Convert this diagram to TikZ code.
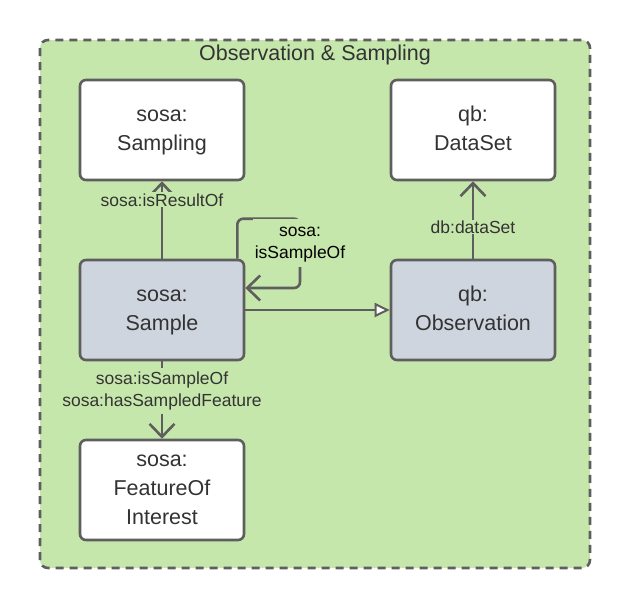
\documentclass[tikz,border=0pt]{standalone}
\usepackage{fontspec}
\setmainfont{Liberation Sans}
\usetikzlibrary{arrows.meta}
\definecolor{areagreen}{RGB}{198,231,171}
\definecolor{classgrey}{RGB}{207,213,222}
\definecolor{edgegrey}{RGB}{94,94,94}
\definecolor{textgrey}{RGB}{51,51,51}
\begin{document}
\begin{tikzpicture}[x=1pt,y=-1pt,
  classbox/.style={draw=edgegrey,line width=2.6pt,rounded corners=6pt,fill=white,
    minimum width=164pt,minimum height=100pt,align=center,text=textgrey,
    font=\fontsize{21.5}{29}\selectfont},
  instbox/.style={classbox,fill=classgrey},
  link/.style={draw=edgegrey,line width=2.6pt,-{Straight Barb[length=13pt,width=25pt,line width=2.6pt]}},
  sublink/.style={draw=edgegrey,line width=2.6pt,-{Triangle[open,fill=white,length=15pt,width=14pt,line width=2pt]}},
  linklabel/.style={fill=areagreen,inner sep=1pt,align=center,text=textgrey,
    font=\fontsize{17.5}{22}\selectfont}]
\useasboundingbox (0,0) rectangle (630,608);
% area
\draw[fill=areagreen,draw=edgegrey,line width=2.6pt,dash pattern=on 8pt off 6pt,
  rounded corners=8pt] (40,40) rectangle (590,568);
\node[text=textgrey,font=\fontsize{21.5}{26}\selectfont] (title) at (315,55) {\strut Observation \& Sampling};
% classes
\node[classbox] (sampling) at (162,130) {\strut sosa:\\\strut Sampling};
\node[classbox] (dataset) at (473,130) {\strut qb:\\\strut DataSet};
\node[instbox] (sample) at (162,310) {\strut sosa:\\\strut Sample};
\node[instbox] (observation) at (473,310) {\strut qb:\\\strut Observation};
\node[classbox] (feature) at (162,490) {\strut sosa:\\\strut FeatureOf\\\strut Interest};
% links
\draw[link] (sample) -- node[linklabel,pos=0.76] (resultlbl) {sosa:isResultOf} (sampling);
\draw[link] (observation) -- node[linklabel,pos=0.41] (datasetlbl) {db:dataSet} (dataset);
\draw[link] (sample) -- node[linklabel,pos=0.39] (featurelbl) {\strut sosa:isSampleOf\\\strut sosa:hasSampledFeature} (feature);
\draw[sublink] (sample) -- (observation);
\coordinate (loopstart) at ([xshift=-8pt]sample.north east);
\coordinate (loopend) at ([yshift=22pt]sample.east);
\draw[link,rounded corners=6pt] (loopstart) -- ++(0,-40) -| (300,288) -- (loopend);
\node[linklabel,text=black,inner sep=2pt] (looplbl) at (300,243) {\strut sosa:\\\strut isSampleOf};
\end{tikzpicture}
\end{document}
